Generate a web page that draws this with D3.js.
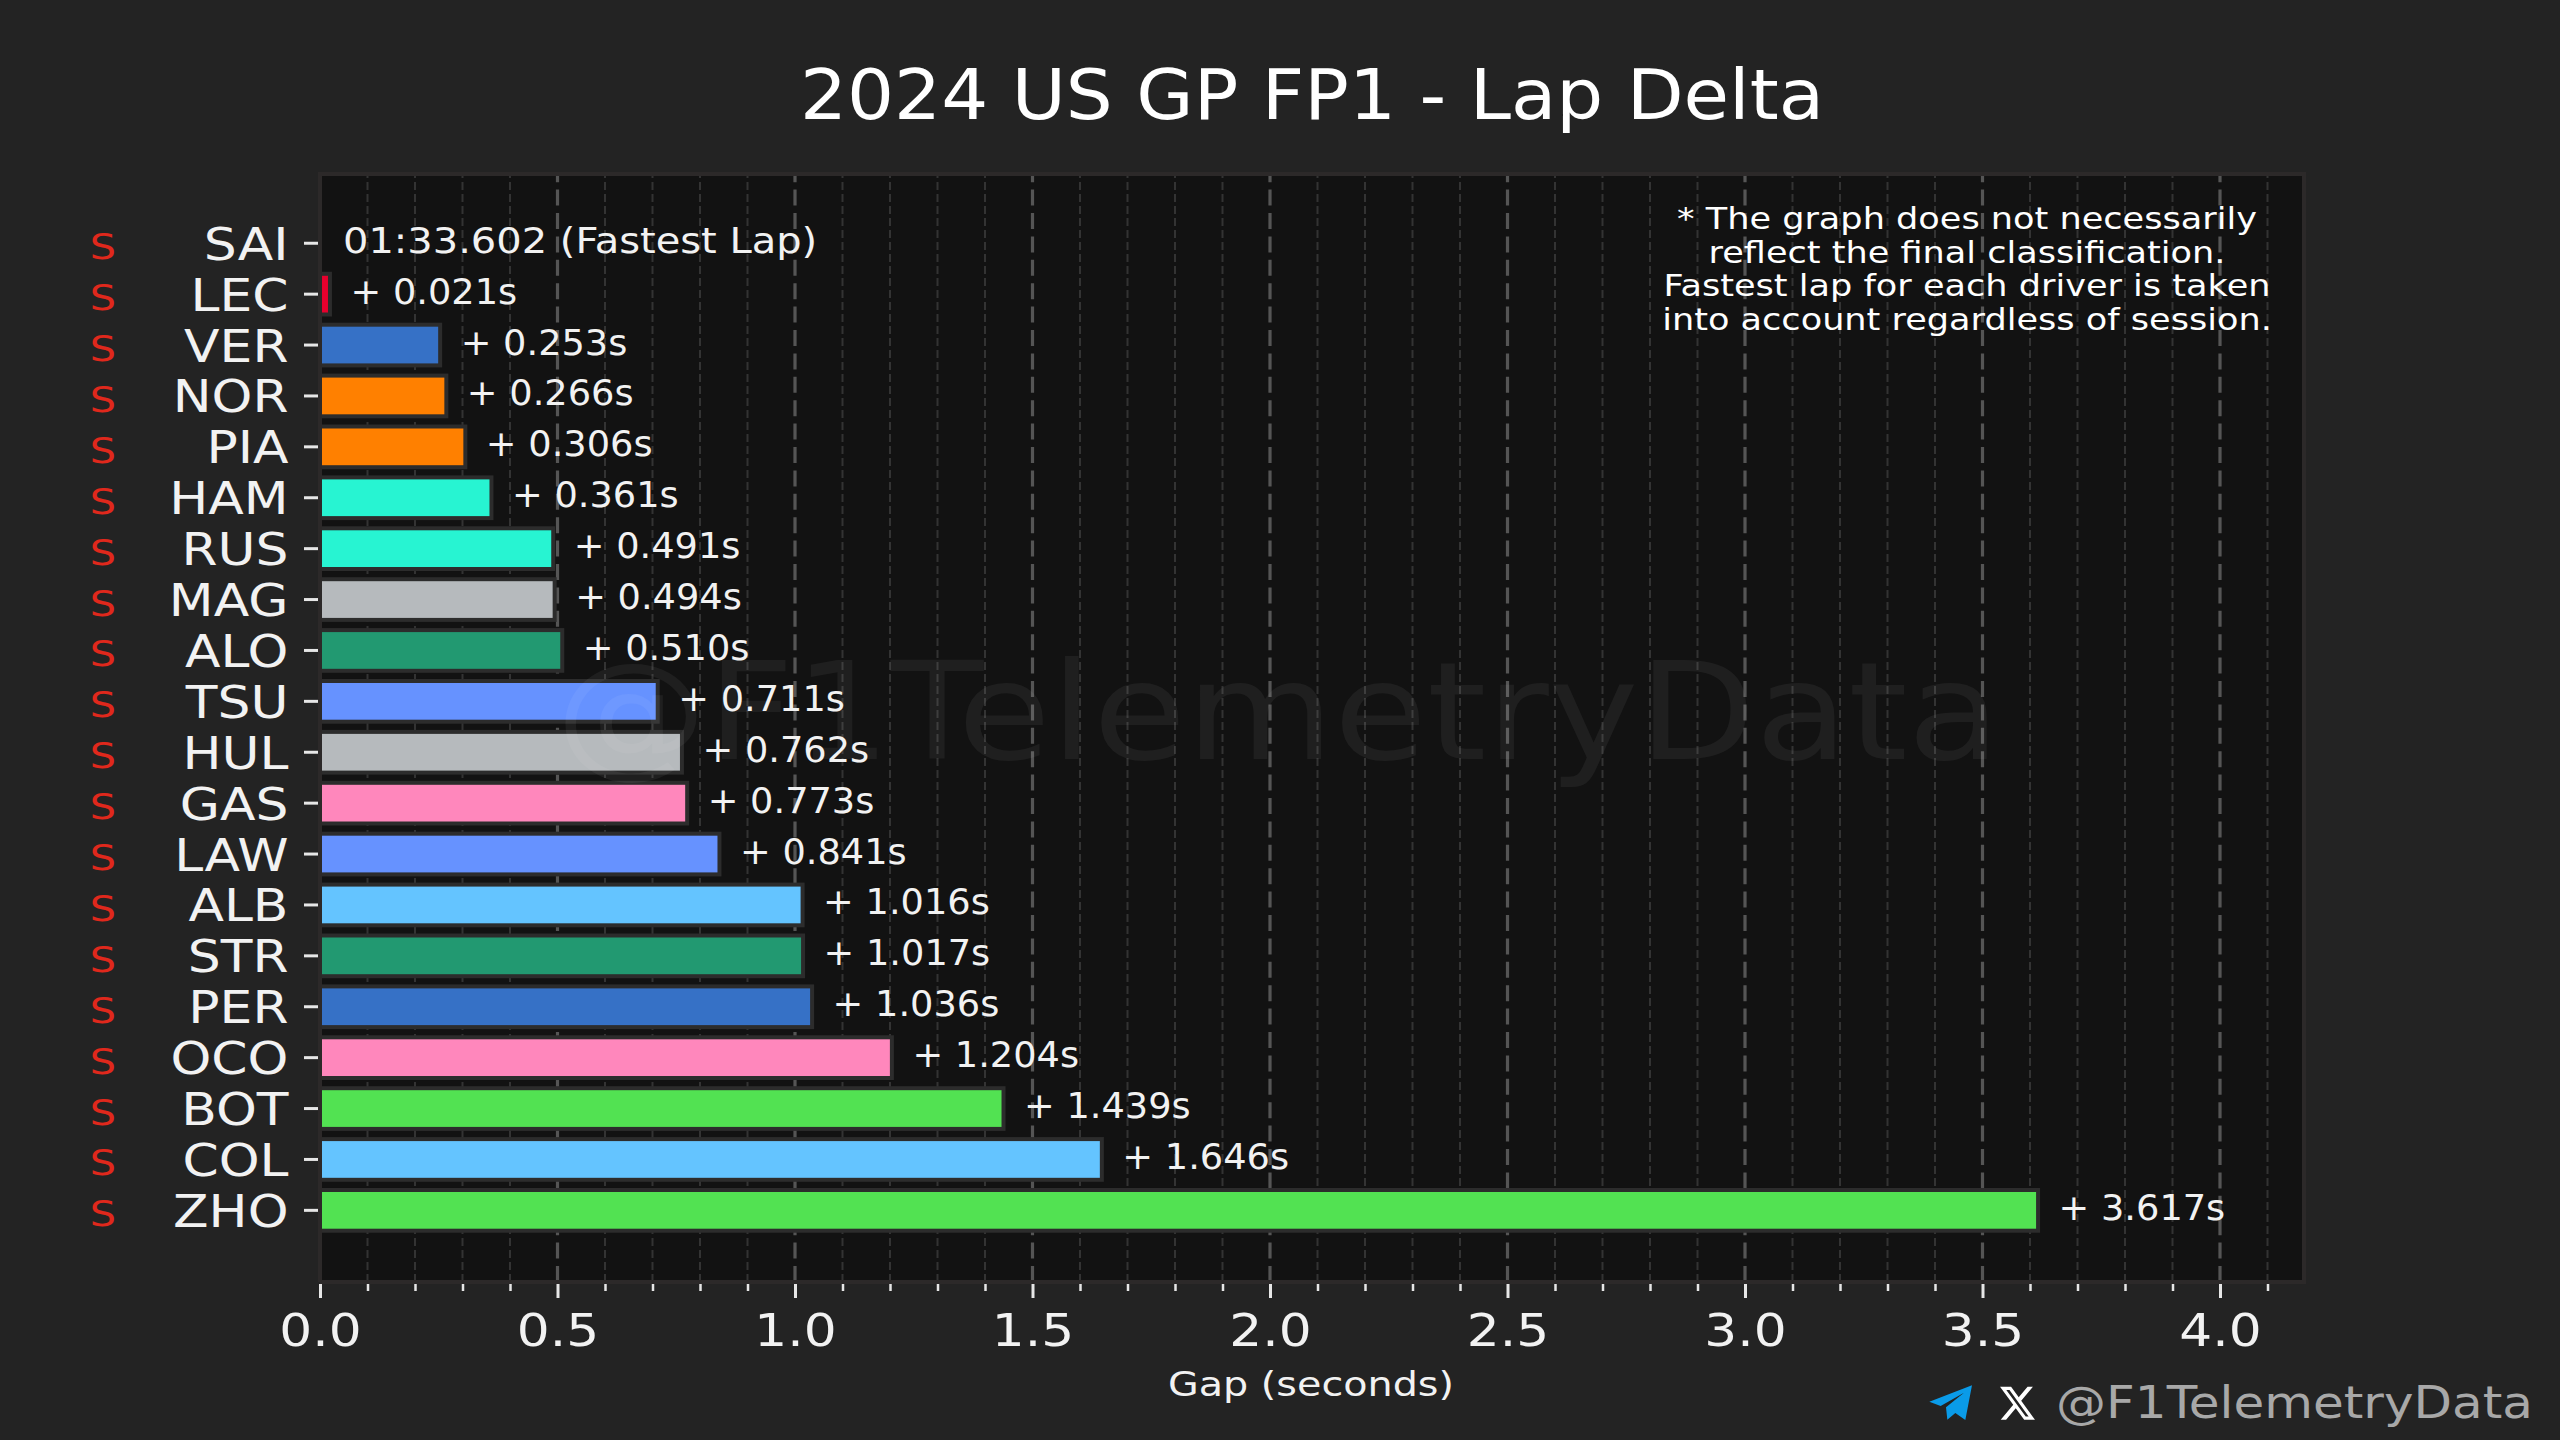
<!DOCTYPE html>
<html>
<head>
<meta charset="utf-8">
<title>2024 US GP FP1 - Lap Delta</title>
<script src="https://cdnjs.cloudflare.com/ajax/libs/d3/7.8.5/d3.min.js"></script>
<style>
    html, body { margin: 0; padding: 0; background: #232323; }
    svg { display: block; }
    text { font-family: "DejaVu Sans", sans-serif; fill: #f2f2f2; }
</style>
</head>
<body>
<svg id="chart" width="2560" height="1440"></svg>
<script>
// data, fastest driver first
const drivers = ["SAI", "LEC", "VER", "NOR", "PIA", "HAM", "RUS", "MAG", "ALO", "TSU",
                 "HUL", "GAS", "LAW", "ALB", "STR", "PER", "OCO", "BOT", "COL", "ZHO"];
const gaps = [0, 0.021, 0.253, 0.266, 0.306, 0.361, 0.491, 0.494, 0.510, 0.711,
              0.762, 0.773, 0.841, 1.016, 1.017, 1.036, 1.204, 1.439, 1.646, 3.617];
const teamColors = ["#e8002d", "#e8002d", "#3671c6", "#ff8000", "#ff8000", "#27f4d2", "#27f4d2", "#b6babd", "#229971", "#6692ff",
                    "#b6babd", "#ff87bc", "#6692ff", "#64c4ff", "#229971", "#3671c6", "#ff87bc", "#52e252", "#64c4ff", "#52e252"];
const compounds = ["S", "S", "S", "S", "S", "S", "S", "S", "S", "S",
                   "S", "S", "S", "S", "S", "S", "S", "S", "S", "S"];
const majorTicks = [0, 0.5, 1, 1.5, 2, 2.5, 3, 3.5, 4];
const minorTicks = [0.1, 0.2, 0.3, 0.4, 0.6, 0.7, 0.8, 0.9, 1.1, 1.2, 1.3, 1.4, 1.6, 1.7, 1.8, 1.9,
                    2.1, 2.2, 2.3, 2.4, 2.6, 2.7, 2.8, 2.9, 3.1, 3.2, 3.3, 3.4, 3.6, 3.7, 3.8, 3.9, 4.1];
const fastestLap = "01:33.602 (Fastest Lap)";
const noteLines = ["* The graph does not necessarily", "reflect the final classification.",
                   "Fastest lap for each driver is taken", "into account regardless of session."];

// plot area
const left = 320, right = 2304, top_ = 174, bottom = 1282;
const svg = d3.select("#chart");

const x = d3.scaleLinear().domain([0, (right - left) / 475]).range([left, right]);
const y = d3.scaleBand().domain(drivers).range([217.8, 1235.8]).paddingInner(0.2).paddingOuter(0.1);

// the font in the picture is much wider than anything installed, so stretch to fit
function fit(sel, width) {
    sel.attr("textLength", width).attr("lengthAdjust", "spacingAndGlyphs");
}
function stretch(sel, factor) {
    sel.each(function() {
        d3.select(this)
            .attr("textLength", this.getComputedTextLength() * factor)
            .attr("lengthAdjust", "spacingAndGlyphs");
    });
}

svg.append("rect").attr("width", 2560).attr("height", 1440).attr("fill", "#232323");
svg.append("rect").attr("x", left).attr("y", top_)
    .attr("width", right - left).attr("height", bottom - top_).attr("fill", "#121212");

// grid, dashes start from the bottom of the axes
svg.append("g").selectAll("line").data(minorTicks).join("line")
    .attr("x1", d => x(d)).attr("x2", d => x(d))
    .attr("y1", bottom).attr("y2", top_)
    .attr("stroke", "#333333").attr("stroke-width", 2).attr("stroke-dasharray", "8 4");
svg.append("g").selectAll("line").data(majorTicks.slice(1)).join("line")
    .attr("x1", d => x(d)).attr("x2", d => x(d))
    .attr("y1", bottom).attr("y2", top_)
    .attr("stroke", "#555555").attr("stroke-width", 3.2).attr("stroke-dasharray", "16 7.4");

// bars
const rows = drivers.map((d, i) => ({ driver: d, gap: gaps[i], color: teamColors[i], compound: compounds[i] }));
svg.append("g").selectAll("rect").data(rows.filter(d => d.gap > 0)).join("rect")
    .attr("x", x(0))
    .attr("y", d => y(d.driver))
    .attr("width", d => x(d.gap) - x(0))
    .attr("height", y.bandwidth())
    .attr("fill", d => d.color)
    .attr("stroke", "#2c2c2c")
    .attr("stroke-width", 4);

// spines
svg.append("path")
    .attr("d", d3.line()([[left, bottom], [left, top_], [right, top_], [right, bottom], [left, bottom]]))
    .attr("fill", "none").attr("stroke", "#2c2929").attr("stroke-width", 4);

// x axis
const xMinor = svg.append("g").attr("transform", `translate(0,${bottom + 2})`)
    .call(d3.axisBottom(x).tickValues(minorTicks).tickSize(7).tickFormat(""));
const xMajor = svg.append("g").attr("transform", `translate(0,${bottom + 2})`)
    .call(d3.axisBottom(x).tickValues(majorTicks).tickSize(14).tickFormat(d3.format(".1f")));
xMinor.select(".domain").remove();
xMajor.select(".domain").remove();
xMinor.selectAll("line").attr("stroke", "#e6e6e6").attr("stroke-width", 2.5);
xMajor.selectAll("line").attr("stroke", "#e6e6e6").attr("stroke-width", 3);
xMajor.selectAll("text")
    .attr("y", 62).attr("dy", 0)
    .attr("font-size", 45).call(stretch, 1.15);

// y axis
const yAxis = svg.append("g").attr("transform", "translate(318,0)")
    .call(d3.axisLeft(y).tickSize(14));
yAxis.select(".domain").remove();
yAxis.selectAll("line").attr("stroke", "#e6e6e6").attr("stroke-width", 3);
yAxis.selectAll("text")
    .attr("x", -29.5).attr("dy", 16.5)
    .attr("font-size", 44).call(stretch, 1.18);

// tyre compound letters
svg.append("g").selectAll("text").data(rows).join("text")
    .attr("x", 103)
    .attr("y", d => y(d.driver) + y.bandwidth() / 2 + 16)
    .attr("text-anchor", "middle")
    .attr("font-size", 36)
    .style("fill", "#e0281c")
    .text(d => d.compound)
    .call(stretch, 1.15);

// gap labels
svg.append("g").selectAll("text").data(rows).join("text")
    .attr("x", d => d.gap > 0 ? x(d.gap) + 20.5 : 343)
    .attr("y", d => y(d.driver) + y.bandwidth() / 2 + 9.5)
    .attr("font-size", 36)
    .text(d => d.gap > 0 ? "+ " + d.gap.toFixed(3) + "s" : fastestLap)
    .each(function(d) {
        d3.select(this).call(stretch, d.gap > 0 ? 1.02 : 1.11);
    });

// note in the top right corner
svg.append("g").selectAll("text").data(noteLines).join("text")
    .attr("x", 1967)
    .attr("y", (d, i) => 229 + i * 33.5)
    .attr("text-anchor", "middle")
    .attr("font-size", 30)
    .style("fill", "#ffffff")
    .text(d => d)
    .call(stretch, 1.17);

// titles
svg.append("text").attr("x", 1312).attr("y", 119)
    .attr("text-anchor", "middle").attr("font-size", 70)
    .style("fill", "#ffffff")
    .text("2024 US GP FP1 - Lap Delta")
    .call(fit, 1024);
svg.append("text").attr("x", 1311).attr("y", 1396)
    .attr("text-anchor", "middle").attr("font-size", 33)
    .text("Gap (seconds)")
    .call(fit, 286);

// watermark, sits on top of everything
svg.append("text").attr("x", 1278).attr("y", 759)
    .attr("text-anchor", "middle").attr("font-size", 136)
    .style("fill", "rgba(255,255,255,0.055)")
    .text("@F1TelemetryData")
    .call(fit, 1445);

// footer
svg.append("text").attr("x", 2056).attr("y", 1418)
    .attr("font-size", 44)
    .style("fill", "#a8a8a8")
    .text("@F1TelemetryData")
    .call(fit, 477);
svg.append("path")
    .attr("transform", "translate(1920,1380) scale(0.3333)")
    .attr("d", "M28 65 L156 16 L136 120 L106 99 L82 119 L78 82 L132 38 L62 78 Z")
    .attr("fill", "#0a9be8");
svg.append("path")
    .attr("transform", "translate(1998,1383) scale(1.62,1.69)")
    .attr("d", "M18.244 2.25h3.308l-7.227 8.26 8.502 11.24H16.17l-5.214-6.817L4.99 21.75H1.68l7.73-8.835L1.254 2.25H8.08l4.713 6.231zm-1.161 17.52h1.833L7.084 4.126H5.117z")
    .attr("fill", "#ffffff");
</script>
</body>
</html>
